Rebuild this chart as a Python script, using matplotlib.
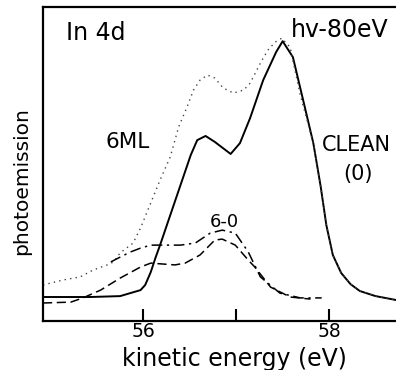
#!/usr/bin/env python3
# -*- coding: utf-8 -*-

import matplotlib
matplotlib.use('Agg')
import matplotlib.pyplot as pyplot

# kinetic energy (eV) / photoemission (arb. units)

clean_energy = [54.92, 55.43, 55.75, 55.86, 55.97, 56.02, 56.08, 56.13, 56.18, 56.29,
                56.40, 56.51, 56.58, 56.67, 56.77, 56.94, 57.04, 57.15, 57.29, 57.43,
                57.50, 57.61, 57.72, 57.83, 57.91, 57.97, 58.04, 58.13, 58.23, 58.33,
                58.50, 58.72]
clean_signal = [8.0, 8.0, 8.3, 9.3, 10.3, 12.0, 16.3, 21.0, 25.3, 35.3,
                45.3, 55.3, 60.3, 61.7, 59.7, 55.7, 59.3, 67.7, 80.3, 89.7,
                93.3, 88.0, 73.7, 59.3, 44.7, 32.0, 22.0, 16.0, 12.3, 10.0,
                8.3, 7.0]

ml6_energy = [54.92, 55.14, 55.32, 55.46, 55.61, 55.68, 55.75, 55.89, 55.97, 56.18,
              56.29, 56.38, 56.47, 56.54, 56.61, 56.69, 56.77, 56.86, 56.97, 57.08,
              57.15, 57.26, 57.34, 57.42, 57.49, 57.58, 57.69, 57.83, 57.91, 57.97,
              58.04, 58.13, 58.23, 58.33, 58.50, 58.72]
ml6_signal = [12.0, 13.7, 14.7, 17.0, 18.7, 19.7, 22.7, 26.0, 31.0, 47.0,
              54.7, 64.7, 71.3, 77.0, 80.3, 82.0, 81.0, 77.7, 76.0, 77.0,
              79.3, 86.0, 90.3, 93.0, 94.3, 91.3, 75.3, 59.3, 44.7, 32.0,
              22.0, 16.0, 12.3, 10.0, 8.3, 7.0]

# 6-0 difference curves
diff_energy = [55.65, 55.75, 55.86, 55.97, 56.08, 56.40, 56.56, 56.72, 56.85, 56.99,
               57.13, 57.26, 57.47, 57.69, 57.92]
diff_signal = [19.7, 21.3, 23.0, 24.3, 25.3, 25.3, 26.0, 29.3, 30.3, 29.3,
               23.0, 14.7, 9.3, 7.7, 7.7]

diff2_energy = [54.92, 55.22, 55.35, 55.54, 55.75, 55.97, 56.08, 56.34, 56.45, 56.61,
                56.77, 56.85, 56.99, 57.13, 57.20, 57.37, 57.58, 57.80]
diff2_signal = [6.0, 6.3, 7.7, 10.3, 14.3, 18.0, 19.3, 18.7, 19.3, 22.0,
                27.0, 27.3, 25.3, 20.3, 18.0, 11.3, 8.0, 7.3]

xticks = [56, 57, 58]
xticklabels = ['56', '', '58']


def main():
    fig = pyplot.figure(figsize=(3.96, 3.70), dpi=100)
    ax = fig.add_axes([43 / 396, 49 / 370, 353 / 396, 314 / 370])

    ax.plot(clean_energy, clean_signal, color='black', linewidth=1.4, solid_joinstyle='round')
    ax.plot(ml6_energy, ml6_signal, color='#444444', linewidth=1.0, linestyle=(0, (1, 3)))
    ax.plot(diff_energy, diff_signal, color='black', linewidth=1.1, linestyle=(0, (7, 3, 1.5, 3)))
    ax.plot(diff2_energy, diff2_signal, color='black', linewidth=1.1, linestyle=(0, (6, 3)))

    ax.set_xlim(54.92, 58.72)
    ax.set_ylim(0, 104.7)
    ax.spines['right'].set_visible(False)
    for s in ['left', 'top', 'bottom']:
        ax.spines[s].set_linewidth(1.6)

    ax.set_xticks(xticks)
    ax.set_xticklabels(xticklabels, fontsize=13.5)
    ax.set_yticks([])
    ax.tick_params(axis='x', direction='in', length=9, width=1.5, pad=1)

    ax.text(0.065, 0.895, 'In 4d', transform=ax.transAxes, fontsize=17, va='baseline')
    ax.text(0.703, 0.904, 'hv-80eV', transform=ax.transAxes, fontsize=17, va='baseline')
    ax.text(0.178, 0.551, '6ML', transform=ax.transAxes, fontsize=15.5, va='baseline')
    ax.text(0.790, 0.541, 'CLEAN', transform=ax.transAxes, fontsize=15, va='baseline')
    ax.text(0.892, 0.468, '(0)', transform=ax.transAxes, fontsize=15, ha='center', va='center')
    ax.text(0.513, 0.299, '6-0', transform=ax.transAxes, fontsize=13, ha='center', va='baseline')

    fig.text(234 / 396, 1 - 366 / 370, 'kinetic energy (eV)', fontsize=17, ha='center', va='baseline')
    fig.text(22 / 396, 1 - 181 / 370, 'photoemission', fontsize=14.5, rotation=90,
             ha='center', va='center')

    fig.savefig('out.png', dpi=100)


if __name__ == "__main__":
    main()
